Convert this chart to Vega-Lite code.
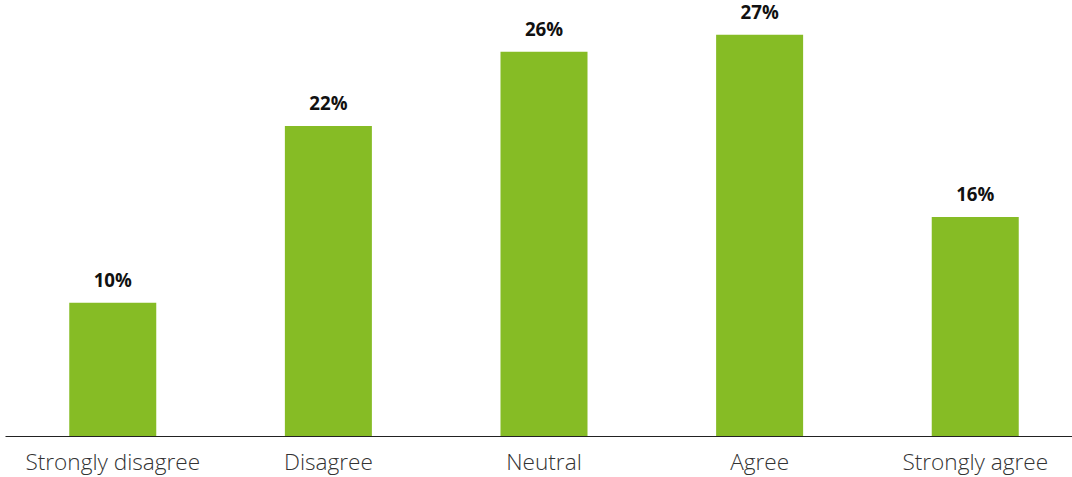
{
  "$schema": "https://vega.github.io/schema/vega-lite/v6.json",
  "width": 1078,
  "height": 436,
  "autosize": {"type": "none"},
  "padding": {"left": 5, "top": 0, "right": 0, "bottom": 41},
  "background": "white",
  "config": {"view": {"stroke": null}, "font": "Open Sans"},
  "data": {
    "values": [
      {"response": "Strongly disagree", "share": 8.98, "label": "10%"},
      {"response": "Disagree", "share": 20.88, "label": "22%"},
      {"response": "Neutral", "share": 25.88, "label": "26%"},
      {"response": "Agree", "share": 27.02, "label": "27%"},
      {"response": "Strongly agree", "share": 14.75, "label": "16%"}
    ]
  },
  "encoding": {
    "x": {
      "field": "response",
      "type": "nominal",
      "sort": null,
      "scale": {"paddingInner": 0.5965, "paddingOuter": 0.298},
      "axis": {
        "title": null,
        "labelAngle": 0,
        "ticks": false,
        "tickSize": 0,
        "labelPadding": 33,
        "labelBaseline": "alphabetic",
        "labelFontSize": 22.6,
        "labelFontWeight": 300,
        "labelColor": "#333333",
        "labelFont": "Open Sans",
        "domainColor": "#222222",
        "domainWidth": 1,
        "grid": false
      }
    },
    "y": {
      "field": "share",
      "type": "quantitative",
      "scale": {"domain": [0, 29.36], "nice": false},
      "axis": null
    }
  },
  "layer": [
    {"mark": {"type": "bar", "color": "#86BC25"}},
    {
      "mark": {
        "type": "text",
        "baseline": "alphabetic",
        "dy": -16,
        "fontSize": 18.7,
        "fontWeight": "bold",
        "font": "Open Sans",
        "color": "#111111"
      },
      "encoding": {"text": {"field": "label"}}
    }
  ]
}
